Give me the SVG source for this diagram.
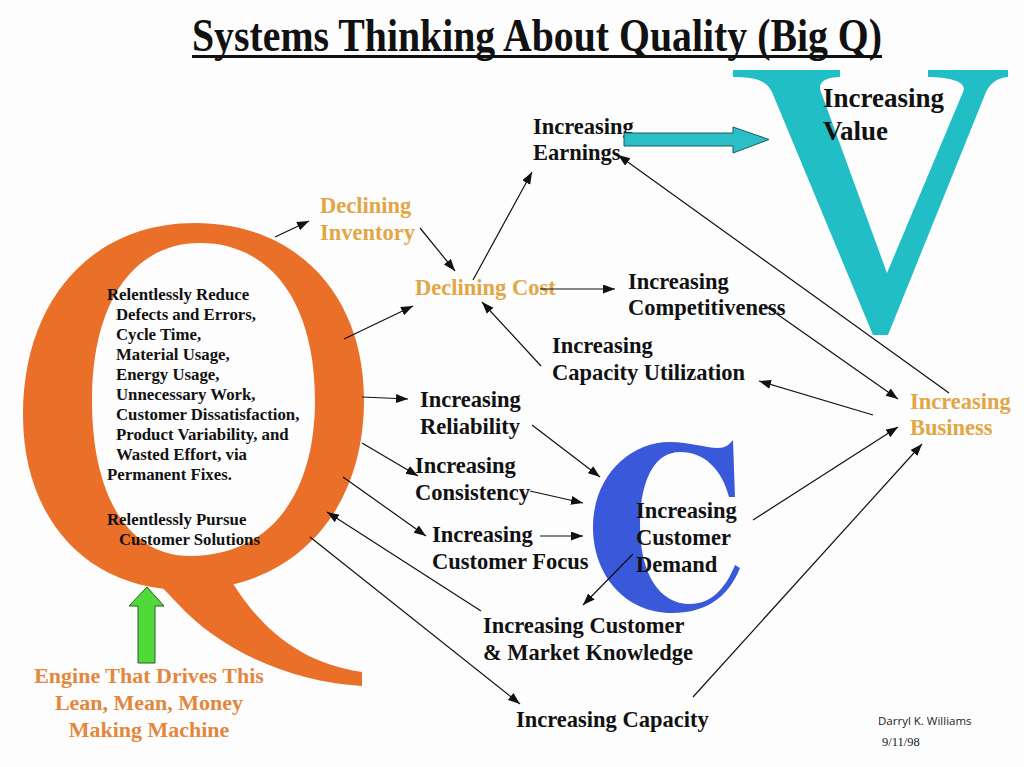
<svg xmlns="http://www.w3.org/2000/svg" width="1024" height="767" viewBox="0 0 1024 767">
<defs>
<style>
.t{font-family:"Liberation Serif","Times New Roman",serif;font-weight:bold;}
.lbl{font-size:22.5px;fill:#111;}
.gold{font-size:22.5px;fill:#E2A645;}
.eng{font-size:22px;fill:#E3873C;}
.qt{font-size:16.8px;fill:#111;}
.c{stroke:#111;stroke-width:1.2;fill:none;marker-end:url(#ah);}
</style>
<marker id="ah" markerUnits="userSpaceOnUse" markerWidth="13" markerHeight="10" refX="12" refY="4.5" orient="auto">
<path d="M0,0 L12,4.5 L0,9 Z" fill="#111"/>
</marker>
</defs>
<rect width="1024" height="767" fill="#FDFDFE"/>

<g id="title">
<text class="t" x="192" y="51" font-size="46" fill="#111" textLength="690" lengthAdjust="spacingAndGlyphs">Systems Thinking About Quality (Big Q)</text>
<rect x="192" y="55" width="690" height="3" fill="#111"/>
</g>

<g id="Q">
<path fill="#EA702A" fill-rule="evenodd" d="M195,223 C296,223 364,294 364,400 C364,514 292,590 185,590 C88,590 23,520 23,415 C23,300 92,223 195,223 Z M200,243 C133,243 92,303 92,400 C92,497 129,556 190,556 C268,556 315,497 315,400 C315,303 271,243 200,243 Z"/>
<path fill="#EA702A" d="M225,570 C250,615 290,662 362,672 L362,686 C290,682 220,650 178,604 L155,580 Z"/>
<text class="t qt" x="107" y="300">Relentlessly Reduce</text>
<text class="t qt" x="116" y="320">Defects and Errors,</text>
<text class="t qt" x="116" y="340">Cycle Time,</text>
<text class="t qt" x="116" y="360">Material Usage,</text>
<text class="t qt" x="116" y="380">Energy Usage,</text>
<text class="t qt" x="116" y="400">Unnecessary Work,</text>
<text class="t qt" x="116" y="420">Customer Dissatisfaction,</text>
<text class="t qt" x="116" y="440">Product Variability, and</text>
<text class="t qt" x="116" y="460">Wasted Effort, via</text>
<text class="t qt" x="107" y="480">Permanent Fixes.</text>
<text class="t qt" x="107" y="525">Relentlessly Pursue</text>
<text class="t qt" x="119" y="545">Customer Solutions</text>
</g>

<g id="engine">
<path d="M147,587 L164,606 L155,606 L155,663 L138,663 L138,606 L129,606 Z" fill="#4FDA3A" stroke="#2A5A22" stroke-width="1"/>
<text class="t eng" x="149" y="683" text-anchor="middle">Engine That Drives This</text>
<text class="t eng" x="149" y="710" text-anchor="middle">Lean, Mean, Money</text>
<text class="t eng" x="149" y="737" text-anchor="middle">Making Machine</text>
</g>

<g id="V">
<path fill="#22BEC6" d="M733,70 L840,70 L840,77 C826,77 817,82 821,92 L887,273 L963,92 C968,82 950,77 928,77 L928,70 L1008,70 L1008,77 C996,78 990,84 986,92 L888,335 L873,335 L772,92 C766,80 755,77 733,77 Z"/>
<text class="t" x="823" y="107" font-size="27" fill="#111">Increasing</text>
<text class="t" x="823" y="140" font-size="27" fill="#111">Value</text>
</g>

<g id="C">
<path fill="#3A58DA" d="M733,440 L735,497 L729,497 C722,470 705,452 680,452 C652,452 640,485 640,525 C640,575 660,604 690,604 C710,604 725,590 735,565 L740,568 C728,598 705,613 672,613 C625,613 593,575 593,527 C593,478 628,442 670,442 C690,442 705,448 718,448 C725,448 729,445 733,440 Z"/>
</g>

<g id="earnings">
<text class="t lbl" x="533" y="134">Increasing</text>
<text class="t lbl" x="533" y="160">Earnings</text>
<path d="M624,133 L733,133 L733,127 L769,139.5 L733,153 L733,146 L624,146 Z" fill="#2BBEC6" stroke="#1B5E63" stroke-width="1"/>
</g>

<g id="declining-inventory">
<text class="t gold" x="320" y="213">Declining</text>
<text class="t gold" x="320" y="240">Inventory</text>
</g>
<g id="declining-cost">
<text class="t gold" x="415" y="295">Declining Cost</text>
</g>
<g id="competitiveness">
<text class="t lbl" x="628" y="289">Increasing</text>
<text class="t lbl" x="628" y="315">Competitiveness</text>
</g>
<g id="capacity-utilization">
<text class="t lbl" x="552" y="353">Increasing</text>
<text class="t lbl" x="552" y="380">Capacity Utilization</text>
</g>
<g id="business">
<text class="t gold" x="910" y="409">Increasing</text>
<text class="t gold" x="910" y="435">Business</text>
</g>
<g id="reliability">
<text class="t lbl" x="420" y="407">Increasing</text>
<text class="t lbl" x="420" y="434">Reliability</text>
</g>
<g id="consistency">
<text class="t lbl" x="415" y="473">Increasing</text>
<text class="t lbl" x="415" y="500">Consistency</text>
</g>
<g id="customer-focus">
<text class="t lbl" x="432" y="542">Increasing</text>
<text class="t lbl" x="432" y="569">Customer Focus</text>
</g>
<g id="customer-demand">
<text class="t lbl" x="636" y="518">Increasing</text>
<text class="t lbl" x="636" y="545">Customer</text>
<text class="t lbl" x="636" y="572">Demand</text>
</g>
<g id="knowledge">
<text class="t lbl" x="483" y="633">Increasing Customer</text>
<text class="t lbl" x="483" y="660">&amp; Market Knowledge</text>
</g>
<g id="capacity">
<text class="t lbl" x="516" y="727">Increasing Capacity</text>
</g>
<g id="signature">
<text x="878" y="725" font-family="'Open Sans','Liberation Sans',sans-serif" font-size="11.5" fill="#222">Darryl K. Williams</text>
<text x="882" y="746" font-family="'Liberation Serif',serif" font-size="12.5" fill="#222">9/11/98</text>
</g>

<g id="connectors">
<path class="c" d="M275,237 L309,221"/>
<path class="c" d="M420,228 L455,271"/>
<path class="c" d="M344,339 L413,306"/>
<path class="c" d="M473,280 L532,172"/>
<path class="c" d="M540,289 L615,289"/>
<path class="c" d="M541,366 L482,302"/>
<path class="c" d="M949,393 L618,155"/>
<path class="c" d="M767,307 L898,399"/>
<path class="c" d="M873,415 L759,381"/>
<path class="c" d="M753,520 L898,427"/>
<path class="c" d="M693,697 L922,444"/>
<path class="c" d="M362,397 L408,399"/>
<path class="c" d="M362,443 L418,476"/>
<path class="c" d="M343,477 L426,536"/>
<path class="c" d="M481,611 L327,512"/>
<path class="c" d="M310,537 L520,704"/>
<path class="c" d="M532,425 L600,477"/>
<path class="c" d="M530,491 L583,503"/>
<path class="c" d="M540,536 L583,536"/>
<path class="c" d="M633,554 L583,605"/>
</g>
</svg>
